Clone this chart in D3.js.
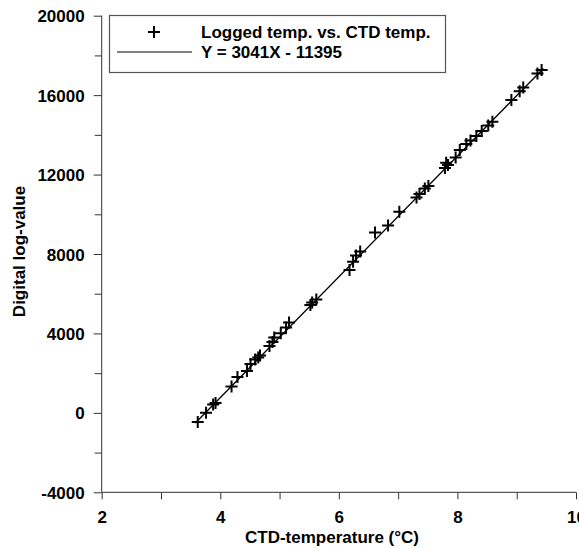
<!DOCTYPE html>
<html>
<head>
<meta charset="utf-8">
<script src="https://cdn.jsdelivr.net/npm/d3@7"></script>
<style>
  html, body { margin: 0; padding: 0; background: #fff; }
  svg text { font-family: "Liberation Sans", Arial, sans-serif; font-weight: bold; font-size: 17px; fill: #000; }
</style>
</head>
<body>
<svg id="chart" width="579" height="548"></svg>
<script>
// CTD temperature (°C) of each logged sample
const ctdTemp = [
  3.62, 3.76, 3.88, 3.92, 4.19, 4.29, 4.45, 4.51, 4.59, 4.64,
  4.67, 4.83, 4.88, 4.91, 5.02, 5.11, 5.16, 5.52, 5.55, 5.62,
  6.18, 6.24, 6.29, 6.36, 6.61, 6.83, 7.02, 7.31, 7.36, 7.45,
  7.51, 7.79, 7.81, 7.84, 7.97, 8.04, 8.15, 8.22, 8.32, 8.41,
  8.52, 8.59, 8.91, 9.05, 9.11, 9.35, 9.42
];
// digital log-value recorded by the logger for the same samples
const logValue = [
  -460, 0, 420, 500, 1330, 1810, 2110, 2460, 2690, 2790,
  2890, 3370, 3570, 3800, 4010, 4300, 4550, 5430, 5560, 5710,
  7200, 7610, 7930, 8130, 9080, 9440, 10130, 10850, 11020, 11300,
  11430, 12330, 12590, 12480, 12860, 13240, 13540, 13720, 13940, 14190,
  14470, 14660, 15760, 16190, 16380, 17090, 17270
];
// linear fit Y = slope * X + intercept, drawn over this temperature span
const fitSlope = 3041;
const fitIntercept = -11395;
const fitRange = [3.58, 9.45];

const xTicks = [2, 4, 6, 8, 10];
const xMinorTicks = [3, 5, 7, 9];
const yTicks = [-4000, 0, 4000, 8000, 12000, 16000, 20000];
const yMinorTicks = [-2000, 2000, 6000, 10000, 14000, 18000];
const legendLabels = ["Logged temp. vs. CTD temp.", "Y = 3041X - 11395"];

const svg = d3.select("#chart");
const x = d3.scaleLinear().domain([2, 10]).range([101.7, 576]);
const y = d3.scaleLinear().domain([-4000, 20000]).range([492.3, 15.7]);

const axisColor = "#333";
const plainNumber = d => String(d);

// x axis
const gx = svg.append("g").attr("transform", `translate(0,${y(-4000)})`);
gx.call(d3.axisBottom(x).tickValues(xTicks).tickSize(7).tickFormat(plainNumber));
gx.append("g").call(d3.axisBottom(x).tickValues(xMinorTicks).tickSize(7).tickFormat(""))
  .select(".domain").remove();
gx.select(".domain").attr("stroke", axisColor).attr("d", `M${x(2)},0H${x(10)}`);
gx.selectAll(".tick line").attr("stroke", axisColor);
gx.selectAll(".tick text").attr("dy", 0).attr("y", 31);

// y axis
const gy = svg.append("g").attr("transform", `translate(${x(2)},0)`);
gy.call(d3.axisLeft(y).tickValues(yTicks).tickSize(8).tickPadding(9).tickFormat(plainNumber));
gy.append("g").call(d3.axisLeft(y).tickValues(yMinorTicks).tickSize(7).tickFormat(""))
  .select(".domain").remove();
gy.select(".domain").attr("stroke", axisColor).attr("d", `M0,${y(-4000)}V${y(20000)}`);
gy.selectAll(".tick line").attr("stroke", axisColor);
gy.selectAll(".tick text").attr("dy", "0.36em");
svg.selectAll(".tick text").attr("fill", "#000")
  .style("font-size", "17px").style("font-weight", "bold")
  .style("font-family", "Liberation Sans, Arial, sans-serif");

// axis titles
svg.append("text").attr("x", 332).attr("y", 542.5).attr("text-anchor", "middle")
  .text("CTD-temperature (°C)");
svg.append("text").attr("transform", "translate(25,251.5) rotate(-90)")
  .attr("text-anchor", "middle").text("Digital log-value");

// fitted line
const fitLine = d3.line().x(d => x(d)).y(d => y(fitSlope * d + fitIntercept));
svg.append("path").datum(fitRange).attr("d", fitLine)
  .attr("fill", "none").attr("stroke", "#000").attr("stroke-width", 1.3);

// plus markers
function plusPath(cx, cy, r) {
  return `M${cx - r},${cy}H${cx + r}M${cx},${cy - r}V${cy + r}`;
}
svg.append("g").selectAll("path").data(ctdTemp).join("path")
  .attr("d", (d, i) => plusPath(x(d), y(logValue[i]), 6))
  .attr("stroke", "#000").attr("stroke-width", 2).attr("fill", "none");

// legend
const lg = svg.append("g");
lg.append("rect").attr("x", 109.5).attr("y", 15.5).attr("width", 336).attr("height", 57)
  .attr("fill", "#fff").attr("stroke", "#555").attr("stroke-width", 1.2);
lg.append("path").attr("d", plusPath(154, 32, 6))
  .attr("stroke", "#000").attr("stroke-width", 2).attr("fill", "none");
lg.append("line").attr("x1", 117).attr("x2", 192).attr("y1", 52).attr("y2", 52)
  .attr("stroke", "#000").attr("stroke-width", 1);
lg.selectAll("text.lab").data(legendLabels).join("text").attr("class", "lab")
  .attr("x", 201).attr("y", (d, i) => 37.5 + i * 20).text(d => d);
</script>
</body>
</html>
